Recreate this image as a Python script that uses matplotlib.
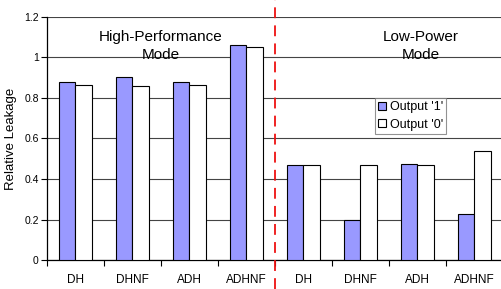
import numpy as np
import matplotlib
matplotlib.use('Agg')
from matplotlib import pyplot as plt

plt.rcParams['font.family'] = ['Liberation Sans', 'DejaVu Sans']

categories = ['DH', 'DHNF', 'ADH', 'ADHNF', 'DH', 'DHNF', 'ADH', 'ADHNF']
output_1 = [0.879, 0.904, 0.879, 1.062, 0.471, 0.196, 0.474, 0.227]
output_0 = [0.864, 0.859, 0.864, 1.052, 0.469, 0.469, 0.469, 0.538]

BLUE = '#9999ff'

fig = plt.figure(figsize=(5.01, 2.89), dpi=100)
ax = fig.add_axes([0.0938, 0.1003, 0.91, 0.841])

x = np.arange(len(categories))
w = 0.29
ax.bar(x - w / 2, output_1, w, color=BLUE, edgecolor='black', linewidth=0.8,
       label="Output '1'", zorder=3)
ax.bar(x + w / 2, output_0, w, color='white', edgecolor='black', linewidth=0.8,
       label="Output '0'", zorder=3)

ax.set_xlim(-0.5, len(categories) - 0.5)
ax.set_ylim(0, 1.2)
ax.set_yticks(np.arange(0, 1.21, 0.2), ['0', '0.2', '0.4', '0.6', '0.8', '1', '1.2'])
ax.yaxis.grid(True, color='#444444', linewidth=0.8, zorder=0)
ax.set_axisbelow(True)

# boundaries get tick marks, centers get the labels
ax.set_xticks(np.arange(-0.5, len(categories), 1.0))
ax.set_xticklabels([])
ax.set_xticks(x, categories, minor=True)
ax.tick_params(axis='x', which='minor', length=0, pad=10, labelsize=8.5)
ax.tick_params(axis='x', which='major', length=4, width=0.8)
ax.tick_params(axis='y', length=4, width=0.8, labelsize=7.5, pad=2)

for s in ['top', 'right']:
    ax.spines[s].set_visible(False)
ax.spines['left'].set_linewidth(0.9)
ax.spines['bottom'].set_linewidth(0.9)

ax.set_ylabel('Relative Leakage', fontsize=9.5, labelpad=5)

for xc, top in [(1.5, 'High-Performance'), (6.06, 'Low-Power')]:
    ax.text(xc, 1.081, top, ha='center', va='baseline', fontsize=11)
    ax.text(xc, 0.990, 'Mode', ha='center', va='baseline', fontsize=11)

ax.axvline(3.5, ymin=-0.12, ymax=1.08, color='#ee1111', linewidth=1.3,
           dashes=(6, 4), clip_on=False, zorder=5)

leg = ax.legend(loc='upper left', bbox_to_anchor=(0.72, 0.667), fontsize=9,
                frameon=True, fancybox=False, borderpad=0.25, handlelength=0.6,
                handleheight=0.6, handletextpad=0.3, labelspacing=0.45,
                borderaxespad=0)
leg.get_frame().set_edgecolor('#777777')
leg.get_frame().set_linewidth(0.8)

fig.savefig('out.png', dpi=100)
